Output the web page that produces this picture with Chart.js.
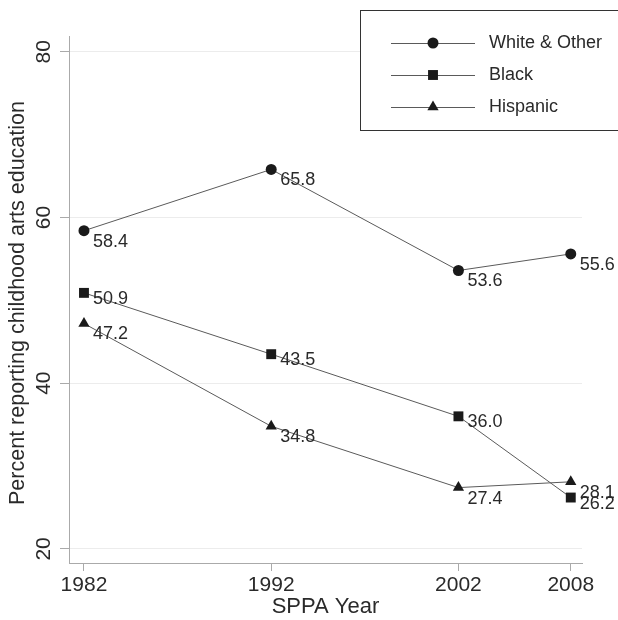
<!DOCTYPE html>
<html>
<head>
<meta charset="utf-8">
<script src="https://cdn.jsdelivr.net/npm/chart.js@4"></script>
<style>
  html, body { margin: 0; padding: 0; background: #fff; }
  #wrap { width: 618px; height: 620px; }
</style>
</head>
<body>
<div id="wrap"><canvas id="artsChart"></canvas></div>
<script>
const years = [1982, 1992, 2002, 2008];
const seriesNames = ["White & Other", "Black", "Hispanic"];
const whiteOther = [58.4, 65.8, 53.6, 55.6];
const black = [50.9, 43.5, 36.0, 26.2];
const hispanic = [47.2, 34.8, 27.4, 28.1];
const yTicks = [20, 40, 60, 80];
const yTitle = "Percent reporting childhood arts education";

const FONT = "'Liberation Sans', Arial, sans-serif";
const TEXT = "#2a2a2a";
const markers = ["circle", "rect", "triangle"];
const markerSize = [5.5, 7, 6.5];
const labelDy = [11, 6, 11];

const datasets = [whiteOther, black, hispanic].map((vals, i) => ({
  label: seriesNames[i],
  data: years.map((y, j) => ({ x: y, y: vals[j] })),
  borderColor: "#5a5a5a",
  borderWidth: 1,
  pointStyle: markers[i],
  pointRadius: markerSize[i],
  pointBackgroundColor: "#1a1a1a",
  pointBorderColor: "#1a1a1a",
  pointBorderWidth: 0,
  tension: 0,
}));

// y tick labels + y title drawn upright-rotated like the original
const yAxisText = {
  id: "yAxisText",
  afterDraw(chart) {
    const ctx = chart.ctx;
    const y = chart.scales.y;
    ctx.save();
    ctx.fillStyle = TEXT;
    ctx.textAlign = "center";
    ctx.textBaseline = "middle";
    ctx.font = "21px " + FONT;
    yTicks.forEach(v => {
      ctx.save();
      ctx.translate(44, y.getPixelForValue(v));
      ctx.rotate(-Math.PI / 2);
      ctx.fillText(String(v), 0, 0);
      ctx.restore();
    });
    ctx.font = "21.5px " + FONT;
    ctx.translate(18, 303);
    ctx.rotate(-Math.PI / 2);
    ctx.fillText(yTitle, 0, 0);
    ctx.restore();
  }
};

// value labels, to the lower right of each point
const valueLabels = {
  id: "valueLabels",
  afterDatasetsDraw(chart) {
    const ctx = chart.ctx;
    ctx.save();
    ctx.font = "18px " + FONT;
    ctx.fillStyle = TEXT;
    ctx.textBaseline = "middle";
    ctx.textAlign = "left";
    chart.data.datasets.forEach((ds, i) => {
      chart.getDatasetMeta(i).data.forEach((pt, j) => {
        ctx.fillText(ds.data[j].y.toFixed(1), pt.x + 9, pt.y + labelDy[i]);
      });
    });
    ctx.restore();
  }
};

// boxed legend in the top right
const boxLegend = {
  id: "boxLegend",
  afterDraw(chart) {
    const ctx = chart.ctx;
    ctx.save();
    ctx.fillStyle = "#fff";
    ctx.fillRect(360, 10, 270, 120);
    ctx.strokeStyle = "#333";
    ctx.lineWidth = 1;
    ctx.strokeRect(360.5, 10.5, 270, 120);
    ctx.font = "18px " + FONT;
    ctx.textBaseline = "middle";
    chart.data.datasets.forEach((ds, i) => {
      const y = 43 + i * 32;
      ctx.strokeStyle = "#5a5a5a";
      ctx.beginPath();
      ctx.moveTo(391, y + 0.5);
      ctx.lineTo(475, y + 0.5);
      ctx.stroke();
      ctx.fillStyle = "#1a1a1a";
      ctx.strokeStyle = "#1a1a1a";
      Chart.helpers.drawPoint(ctx, {
        pointStyle: ds.pointStyle, radius: ds.pointRadius, borderWidth: 0
      }, 433, y);
      ctx.fillStyle = TEXT;
      ctx.fillText(ds.label, 489, y);
    });
    ctx.restore();
  }
};

new Chart(document.getElementById("artsChart"), {
  type: "line",
  data: { datasets: datasets },
  plugins: [valueLabels, boxLegend, yAxisText],
  options: {
    responsive: true,
    maintainAspectRatio: false,
    animation: false,
    layout: { padding: { top: 36, right: 36, left: 0, bottom: 0 } },
    plugins: {
      legend: { display: false },
      tooltip: { enabled: false }
    },
    scales: {
      x: {
        type: "linear",
        min: 1981.2,
        max: 2008.6,
        afterBuildTicks: (s) => { s.ticks = years.map(v => ({ value: v })); },
        afterFit: (s) => { s.height = 57; },
        grid: { drawOnChartArea: false, tickLength: 8, color: "#aaa" },
        border: { color: "#aaa" },
        ticks: {
          color: TEXT, font: { family: FONT, size: 21 }, padding: 2,
          maxRotation: 0, callback: (v) => String(v)
        },
        title: {
          display: true, text: "SPPA Year", color: TEXT,
          font: { family: FONT, size: 22 }, padding: { top: 0, bottom: 0 }
        }
      },
      y: {
        min: 18.3,
        max: 81.9,
        afterBuildTicks: (s) => { s.ticks = yTicks.map(v => ({ value: v })); },
        afterFit: (s) => { s.width = 69; },
        grid: { color: "#ececec", tickColor: "#aaa", tickLength: 9 },
        border: { color: "#aaa" },
        ticks: { display: false }
      }
    }
  }
});
</script>
</body>
</html>
